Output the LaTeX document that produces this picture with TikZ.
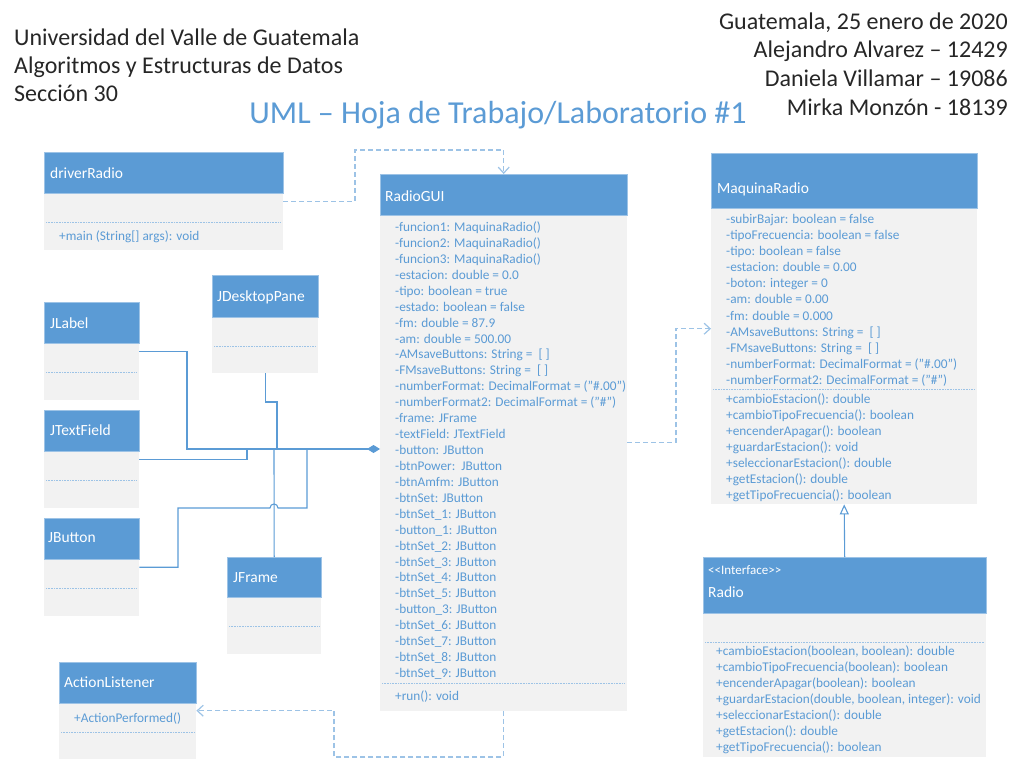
\documentclass[tikz,border=0pt]{standalone}
\usepackage{fontspec}
\setmainfont{Carlito}
\usetikzlibrary{arrows.meta}
\definecolor{hblue}{HTML}{5B9BD5}
\definecolor{hedge}{HTML}{9DC3E6}
\definecolor{bgray}{HTML}{F2F2F2}
\definecolor{tblue}{HTML}{5B9BD5}
\definecolor{lblue}{HTML}{9DC3E6}
\definecolor{dk}{HTML}{262626}
\definecolor{cline}{HTML}{5B9BD5}
\tikzset{
 bodyst/.style={fill=bgray, draw=none, inner sep=0pt, anchor=north west},
 hdrst/.style={fill=hblue, draw=hedge, line width=0.5pt, inner sep=0pt, anchor=north west},
 sepst/.style={draw=lblue, line width=0.7pt, dash pattern=on 0.8pt off 0.8pt},
 ttl/.style={text=white, font=\fontsize{15.5}{18}\selectfont, anchor=west, inner sep=0pt, text height=13pt, text depth=2pt},
 stereo/.style={text=white, font=\fontsize{13}{14}\selectfont, anchor=west, inner sep=0pt, text height=10pt, text depth=2pt},
 attr/.style={text=tblue, font=\fontsize{13.3}{16}\selectfont, anchor=west, inner sep=0pt, text height=11pt, text depth=2pt},
 comp/.style={draw=cline, line width=1.1pt},
 dep/.style={draw=lblue, line width=1.2pt, dash pattern=on 5pt off 3pt, -{Straight Barb[length=6pt,width=11pt]}},
 hdtext/.style={text=dk, font=\fontsize{24}{28}\selectfont, inner sep=0pt, text height=18pt, text depth=3pt},
}
\newcommand\umlclass[7]{%
 \node[bodyst, minimum width=#4, minimum height=#6] (#1) at (#2,#3) {};
 \node[hdrst, minimum width=#4, minimum height=#5] (#1h) at (#2,#3) {};
 \draw[sepst] (#2+2,#7) -- (#2+#4-2,#7);
}
\begin{document}
\begin{tikzpicture}[x=1pt,y=-1pt]
\useasboundingbox (0,0) rectangle (1021,762);
% header
\node[hdtext, anchor=west] (u1) at (14,38) {Universidad del Valle de Guatemala};
\node[hdtext, anchor=west] (u2) at (14,66) {Algoritmos y Estructuras de Datos};
\node[hdtext, anchor=west] (u3) at (14,94) {Sección 30};
\node[hdtext, anchor=east] (r1) at (1008,22) {Guatemala, 25 enero de 2020};
\node[hdtext, anchor=east] (r2) at (1008,50) {Alejandro Alvarez – 12429};
\node[hdtext, anchor=east] (r3) at (1008,79) {Daniela Villamar – 19086};
\node[hdtext, anchor=east] (r4) at (1008,108) {Mirka Monzón - 18139};
\node[text=hblue, font=\fontsize{32}{36}\selectfont, inner sep=0pt, text height=24pt, text depth=2pt] (title) at (498,113) {UML – Hoja de Trabajo/Laboratorio \#1};

% classes
\umlclass{drv}{44}{152}{239}{41}{98}{222}
\umlclass{rg}{380}{174}{247}{41}{537}{683}
\umlclass{mr}{711}{153}{266}{55}{351}{389}
\umlclass{rad}{703}{557}{283}{56}{200}{642}
\umlclass{jl}{44}{302}{95}{41}{98}{372}
\umlclass{jt}{44}{410}{95}{41}{98}{480}
\umlclass{jb}{44}{518}{95}{41}{98}{588}
\umlclass{jd}{212}{275}{106}{42}{98}{346}
\umlclass{jf}{227}{557}{94}{40}{97}{626}
\umlclass{al}{59}{662}{137}{41}{97}{732}

% titles
\node[ttl] (drvt) at (50,173) {driverRadio};
\node[ttl] (rgt) at (385,196) {RadioGUI};
\node[ttl] (mrt) at (717,188) {MaquinaRadio};
\node[stereo] (rads) at (708,570) {<\kern0pt<Interface>\kern0pt>};
\node[ttl] (radt) at (708,592) {Radio};
\node[ttl] (jlt) at (50,323) {JLabel};
\node[ttl] (jtt) at (50,430) {JTextField};
\node[ttl] (jbt) at (48,537) {JButton};
\node[ttl] (jdt) at (217,296) {JDesktopPane};
\node[ttl] (jft) at (233,577) {JFrame};
\node[ttl] (alt) at (64,682) {ActionListener};

% members
\node[attr] (drvm) at (59,236) {+main (String[] args): void};
\foreach \t [count=\i from 0] in {
 {-funcion1: MaquinaRadio()},
 {-funcion2: MaquinaRadio()},
 {-funcion3: MaquinaRadio()},
 {-estacion: double = 0.0},
 {-tipo: boolean = true},
 {-estado: boolean = false},
 {-fm: double = 87.9},
 {-am: double = 500.00},
 {-AMsaveButtons: String =\ \ [ ]},
 {-FMsaveButtons: String =\ \ [ ]},
 {-numberFormat: DecimalFormat = ("\#.00")},
 {-numberFormat2: DecimalFormat = ("\#")},
 {-frame: JFrame},
 {-textField: JTextField},
 {-button: JButton},
 {-btnPower:\ \ JButton},
 {-btnAmfm: JButton},
 {-btnSet: JButton},
 {-btnSet\_1: JButton},
 {-button\_1: JButton},
 {-btnSet\_2: JButton},
 {-btnSet\_3: JButton},
 {-btnSet\_4: JButton},
 {-btnSet\_5: JButton},
 {-button\_3: JButton},
 {-btnSet\_6: JButton},
 {-btnSet\_7: JButton},
 {-btnSet\_8: JButton},
 {-btnSet\_9: JButton}}
 \node[attr, name=rga\i] at (395,227+15.93*\i) {\t};
\node[attr] (rgm) at (395,696) {+run(): void};

\foreach \t [count=\i from 0] in {
 {-subirBajar: boolean = false},
 {-tipoFrecuencia: boolean = false},
 {-tipo: boolean = false},
 {-estacion: double = 0.00},
 {-boton: integer = 0},
 {-am: double = 0.00},
 {-fm: double = 0.000},
 {-AMsaveButtons: String =\ \ [ ]},
 {-FMsaveButtons: String =\ \ [ ]},
 {-numberFormat: DecimalFormat = ("\#.00")},
 {-numberFormat2: DecimalFormat = ("\#")}}
 \node[attr, name=mra\i] at (726,219+16.1*\i) {\t};
\foreach \t [count=\i from 0] in {
 {+cambioEstacion(): double},
 {+cambioTipoFrecuencia(): boolean},
 {+encenderApagar(): boolean},
 {+guardarEstacion(): void},
 {+seleccionarEstacion(): double},
 {+getEstacion(): double},
 {+getTipoFrecuencia(): boolean}}
 \node[attr, name=mrm\i] at (726,399+16*\i) {\t};
\foreach \t [count=\i from 0] in {
 {+cambioEstacion(boolean, boolean): double},
 {+cambioTipoFrecuencia(boolean): boolean},
 {+encenderApagar(boolean): boolean},
 {+guardarEstacion(double, boolean, integer): void},
 {+seleccionarEstacion(): double},
 {+getEstacion(): double},
 {+getTipoFrecuencia(): boolean}}
 \node[attr, name=radm\i] at (716,651+16*\i) {\t};
\node[attr] (alm) at (74,718) {+ActionPerformed()};

% dependencies
\draw[dep] (drv.east) -| (355,150) -| (rg.north);
\draw[dep] (rg.east) -| (676,385) |- (mr.west);
\draw[dep] (rg.south) |- (334,757) |- (al.east);

% generalization
\draw[comp, -{Triangle[open, length=10pt, width=9pt]}] (rad.north) -- (mr.south);

% compositions
\coordinate (dia) at (380,449);
\draw[comp, -{Diamond[length=13pt, width=8pt]}] (jl.east) -| (187,449) -- (dia);
\draw[comp] (jt.east) -| (247,449);
\draw[comp] (jd.south) |- (277,402) -- (277,449);
\draw[comp] (jf.north) -- (274,449);
\draw[comp] (jb.east) -| (178,508) -- (270,508) .. controls (270,502.7) and (278,502.7) .. (278,508) -| (307,449);
\end{tikzpicture}
\end{document}
